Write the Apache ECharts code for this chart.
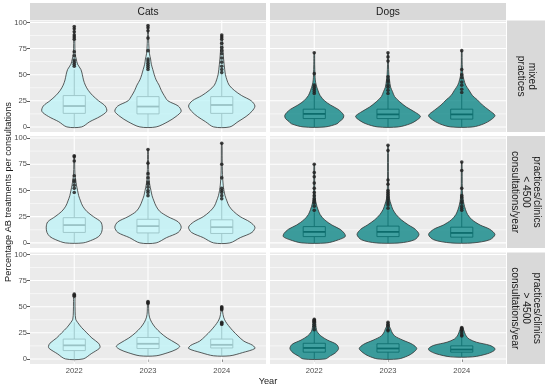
<!DOCTYPE html>
<html>
<head>
<meta charset="utf-8">
<script src="https://cdn.jsdelivr.net/npm/echarts@6/dist/echarts.min.js"></script>
<style>html,body{margin:0;padding:0;background:#fff;}#chart{width:550px;height:387px;}</style>
</head>
<body>
<div id="chart"></div>
<script>
// ---------------- DATA ----------------
const years = ['2022', '2023', '2024'];
const speciesNames = ['Cats', 'Dogs'];
const practiceNames = [
  'mixed\npractices',
  'practices/clinics\n< 4500\nconsultations/year',
  'practices/clinics\n> 4500\nconsultations/year'
];
const yTickValues = [0, 25, 50, 75, 100];
const yMinorValues = [12.5, 37.5, 62.5, 87.5];
const xTickValues = [1, 2, 3];
const yAxisTitle = 'Percentage AB treatments per consultations';
const xAxisTitle = 'Year';

// violin profiles: [value, half-width (category units)] for 2022, 2023, 2024
const catsMixedViolins = [
  [[0,0.10],[5,0.21],[10,0.35],[15,0.44],[20,0.42],[25,0.33],[30,0.25],[35,0.19],[40,0.15],[45,0.125],[50,0.11],[55,0.09],[60,0.045],[65,0.027],[70,0.012],[80,0.008],[96,0.004]],
  [[0,0.11],[5,0.27],[10,0.38],[15,0.45],[20,0.41],[25,0.27],[30,0.22],[35,0.18],[40,0.15],[45,0.11],[50,0.085],[55,0.065],[60,0.045],[65,0.035],[70,0.02],[80,0.01],[97,0.004]],
  [[0,0.11],[5,0.22],[10,0.33],[15,0.41],[20,0.45],[25,0.40],[30,0.27],[35,0.17],[40,0.10],[45,0.07],[50,0.05],[55,0.04],[65,0.025],[75,0.015],[88,0.005]]
];
const catsMixedBoxes = [[0,13,20,30,55],[0,12.5,19.5,29,53],[0,13,21,29,50]]; // lo, q1, median, q3, hi
const catsMixedOutliers = [
  [58,60,62,64,68,72,84,86,88,91,94,96],
  [55,57,59,61,63,65,73,85,92,95,97],
  [52,55,58,62,66,70,73,76,80,84,86,88]
];

const dogsMixedViolins = [
  [[0,0.15],[3,0.31],[5,0.34],[8,0.39],[11,0.40],[14,0.37],[17,0.32],[21,0.22],[25,0.14],[30,0.08],[35,0.05],[40,0.027],[45,0.014],[50,0.01],[60,0.006],[71,0.004]],
  [[0,0.14],[3,0.30],[6,0.38],[10,0.44],[14,0.37],[19,0.25],[24,0.16],[29,0.09],[34,0.06],[38,0.036],[45,0.02],[50,0.012],[60,0.006],[71,0.004]],
  [[0,0.15],[3,0.30],[7,0.40],[11,0.45],[16,0.37],[21,0.28],[26,0.21],[30,0.145],[35,0.10],[40,0.054],[45,0.03],[50,0.015],[60,0.006],[73,0.004]]
];
const dogsMixedBoxes = [[0,8,12.5,17,30],[0,8,12,17,30],[0,7.5,12,17,31]];
const dogsMixedOutliers = [
  [32,34,36,38,40,51,71],
  [32,35,38,40,43,45,48,63,67,71],
  [33,36,40,43,47,50,55,73]
];

const catsSmallViolins = [
  [[0,0.12],[3,0.25],[6,0.33],[10,0.37],[15,0.38],[20,0.36],[25,0.26],[30,0.17],[35,0.115],[40,0.085],[45,0.06],[50,0.045],[55,0.03],[60,0.02],[65,0.01],[75,0.006],[83,0.004]],
  [[0,0.11],[5,0.25],[10,0.41],[15,0.45],[20,0.41],[25,0.27],[30,0.16],[35,0.11],[40,0.08],[45,0.055],[50,0.04],[55,0.025],[60,0.015],[70,0.008],[89,0.004]],
  [[0,0.11],[5,0.25],[10,0.41],[15,0.45],[20,0.38],[25,0.25],[30,0.16],[35,0.10],[40,0.07],[45,0.045],[50,0.03],[55,0.02],[65,0.01],[80,0.006],[95,0.004]]
];
const catsSmallBoxes = [[0,10,17,24,45],[0,9.5,16,22.5,42],[0,9,15,22,41]];
const catsSmallOutliers = [
  [48,52,55,58,60,64,78,82,83],
  [45,48,50,53,56,58,62,66,76,89],
  [42,45,48,50,52,62,75,95]
];

const dogsSmallViolins = [
  [[0,0.17],[3,0.33],[6,0.42],[9,0.41],[13,0.35],[17,0.24],[22,0.14],[27,0.08],[32,0.05],[37,0.028],[42,0.015],[50,0.008],[60,0.006],[75,0.004]],
  [[0,0.16],[3,0.36],[8,0.42],[13,0.37],[17,0.28],[22,0.18],[27,0.11],[32,0.065],[37,0.04],[42,0.02],[50,0.01],[60,0.006],[93,0.004]],
  [[0,0.15],[3,0.38],[8,0.45],[13,0.38],[17,0.25],[22,0.14],[27,0.08],[32,0.05],[37,0.03],[42,0.018],[50,0.008],[77,0.004]]
];
const dogsSmallBoxes = [[0,6,10.5,15.5,29],[0,6,10.5,16,31],[0,5.5,9.5,15,29]];
const dogsSmallOutliers = [
  [31,35,38,40,42,45,48,52,57,63,67,75],
  [33,36,38,40,42,44,46,48,50,56,60,88,93],
  [31,33,35,38,40,43,45,52,69,77]
];

const catsLargeViolins = [
  [[0,0.12],[5,0.23],[10,0.34],[12,0.35],[15,0.33],[20,0.24],[25,0.17],[30,0.10],[35,0.045],[38,0.02],[45,0.012],[55,0.01],[62,0.008]],
  [[3,0.11],[6,0.27],[9,0.38],[12,0.43],[15,0.38],[20,0.26],[25,0.17],[30,0.10],[35,0.05],[40,0.02],[45,0.01],[52,0.008],[55,0.006]],
  [[3,0.11],[6,0.28],[10,0.45],[13,0.42],[17,0.30],[22,0.22],[27,0.15],[32,0.09],[36,0.05],[40,0.025],[45,0.012],[50,0.006]]
];
const catsLargeBoxes = [[0,8,13,19,35],[3,10,14.5,20.5,36],[3,10.5,13.5,19,31]];
const catsLargeOutliers = [
  [60,61,62],
  [53,54,55],
  [33,34,35,47,48,49,50]
];

const dogsLargeViolins = [
  [[0,0.15],[3,0.22],[6,0.29],[10,0.33],[14,0.30],[18,0.18],[22,0.09],[26,0.04],[30,0.025],[34,0.02],[38,0.012]],
  [[0,0.14],[3,0.27],[6,0.34],[10,0.39],[14,0.33],[18,0.20],[22,0.09],[26,0.05],[28,0.04],[31,0.02],[35,0.01]],
  [[2,0.15],[5,0.35],[8,0.44],[10,0.45],[13,0.38],[16,0.20],[19,0.10],[22,0.06],[25,0.04],[28,0.025],[30,0.015]]
];
const dogsLargeBoxes = [[0,6.5,10.5,15,27],[0,6.5,10,14.5,26],[2,6.5,9,12.5,21]];
const dogsLargeOutliers = [
  [28,31,33,35,36,37,38],
  [27,28,31,33,35],
  [22,23,25,27,28,29,30]
];

// ---------------- LAYOUT / STYLE ----------------
const FONT = '"Liberation Sans", Arial, Helvetica, sans-serif';
const Y_MIN = -4.85, Y_MAX = 101.85, X_MIN = 0.4, X_MAX = 3.6;
const COLS = [{left: 30, width: 236}, {left: 270, width: 236}];
const ROWS = [{top: 20.5, height: 111.5}, {top: 136, height: 112}, {top: 252.5, height: 111.5}];
const FILLS = ['rgba(188,243,247,0.75)', 'rgba(0,128,128,0.75)'];
const BOX_HALF = 0.15;

const panels = [
  {row: 0, col: 0, v: catsMixedViolins, b: catsMixedBoxes, o: catsMixedOutliers},
  {row: 0, col: 1, v: dogsMixedViolins, b: dogsMixedBoxes, o: dogsMixedOutliers},
  {row: 1, col: 0, v: catsSmallViolins, b: catsSmallBoxes, o: catsSmallOutliers},
  {row: 1, col: 1, v: dogsSmallViolins, b: dogsSmallBoxes, o: dogsSmallOutliers},
  {row: 2, col: 0, v: catsLargeViolins, b: catsLargeBoxes, o: catsLargeOutliers},
  {row: 2, col: 1, v: dogsLargeViolins, b: dogsLargeBoxes, o: dogsLargeOutliers}
];

const grid = [], xAxis = [], yAxis = [], series = [];

panels.forEach((p, k) => {
  const c = COLS[p.col], r = ROWS[p.row];
  grid.push({left: c.left, top: r.top, width: c.width, height: r.height,
    show: true, backgroundColor: '#EBEBEB', borderWidth: 0});
  const showX = p.row === 2, showY = p.col === 0;
  xAxis.push({gridIndex: k, type: 'value', min: X_MIN, max: X_MAX,
    axisLine: {show: false}, splitLine: {show: false},
    axisTick: {show: showX, customValues: xTickValues, length: 3, lineStyle: {color: '#333', width: 0.8}},
    axisLabel: {show: showX, customValues: xTickValues, margin: 3,
      formatter: v => years[Math.round(v) - 1] || '', fontSize: 7.6, color: '#4D4D4D', fontFamily: FONT}});
  yAxis.push({gridIndex: k, type: 'value', min: Y_MIN, max: Y_MAX,
    axisLine: {show: false}, splitLine: {show: false},
    axisTick: {show: showY, customValues: yTickValues, length: 3, lineStyle: {color: '#333', width: 0.8}},
    axisLabel: {show: showY, customValues: yTickValues, margin: 3,
      fontSize: 7.6, color: '#4D4D4D', fontFamily: FONT}});

  // background grid lines
  const gl = [];
  yTickValues.forEach(v => gl.push([0, v, 1]));
  yMinorValues.forEach(v => gl.push([0, v, 0]));
  xTickValues.forEach(v => gl.push([1, v, 1]));
  series.push({type: 'custom', xAxisIndex: k, yAxisIndex: k, silent: true, data: gl,
    renderItem: (params, api) => {
      const t = api.value(0), v = api.value(1), major = api.value(2);
      let a, b;
      if (t === 0) { a = api.coord([X_MIN, v]); b = api.coord([X_MAX, v]); }
      else { a = api.coord([v, Y_MIN]); b = api.coord([v, Y_MAX]); }
      return {type: 'line', shape: {x1: a[0], y1: a[1], x2: b[0], y2: b[1]},
        style: {stroke: '#FFFFFF', lineWidth: major ? 1.1 : 0.55}};
    }});

  // boxplots
  series.push({type: 'custom', xAxisIndex: k, yAxisIndex: k, silent: true,
    data: xTickValues.map(x => [x, p.b[x - 1][2]]),
    renderItem: (params, api) => {
      const x = api.value(0);
      const [lo, q1, med, q3, hi] = p.b[params.dataIndex];
      const top = api.coord([x, hi]), q3p = api.coord([x, q3]), q1p = api.coord([x, q1]), bot = api.coord([x, lo]);
      const tl = api.coord([x - BOX_HALF, q3]), br = api.coord([x + BOX_HALF, q1]);
      const ml = api.coord([x - BOX_HALF, med]), mr = api.coord([x + BOX_HALF, med]);
      const st = {stroke: '#333333', lineWidth: 0.9};
      return {type: 'group', children: [
        {type: 'line', shape: {x1: top[0], y1: top[1], x2: q3p[0], y2: q3p[1]}, style: st},
        {type: 'line', shape: {x1: bot[0], y1: bot[1], x2: q1p[0], y2: q1p[1]}, style: st},
        {type: 'rect', shape: {x: tl[0], y: tl[1], width: br[0] - tl[0], height: br[1] - tl[1]},
          style: {fill: '#FFFFFF', stroke: '#333333', lineWidth: 0.9}},
        {type: 'line', shape: {x1: ml[0], y1: ml[1], x2: mr[0], y2: mr[1]}, style: {stroke: '#333333', lineWidth: 1.8}}
      ]};
    }});

  // outliers
  const pts = [];
  p.o.forEach((arr, i) => arr.forEach(v => pts.push([i + 1, v])));
  series.push({type: 'scatter', xAxisIndex: k, yAxisIndex: k, silent: true, data: pts,
    symbolSize: 3.6, itemStyle: {color: '#222222', opacity: 0.85}});

  // violins
  series.push({type: 'custom', xAxisIndex: k, yAxisIndex: k, silent: true,
    data: xTickValues.map(x => [x, 0]),
    renderItem: (params, api) => {
      const x = api.value(0);
      const prof = p.v[params.dataIndex];
      const pts2 = [];
      for (let i = 0; i < prof.length; i++) pts2.push(api.coord([x + prof[i][1], prof[i][0]]));
      for (let i = prof.length - 1; i >= 0; i--) pts2.push(api.coord([x - prof[i][1], prof[i][0]]));
      return {type: 'polygon', shape: {points: pts2, smooth: 0.3},
        style: {fill: FILLS[p.col], stroke: '#333333', lineWidth: 0.8}};
    }});
});

// strips and titles
const graphic = [];
COLS.forEach((c, i) => {
  graphic.push({type: 'rect', shape: {x: c.left, y: 3, width: c.width, height: 17}, style: {fill: '#D9D9D9'}, silent: true});
  graphic.push({type: 'text', x: c.left + c.width / 2, y: 12, silent: true,
    style: {text: speciesNames[i], align: 'center', verticalAlign: 'middle', fontSize: 10.2, fill: '#1A1A1A', fontFamily: FONT}});
});
ROWS.forEach((r, i) => {
  graphic.push({type: 'rect', shape: {x: 507, y: r.top, width: 38, height: r.height}, style: {fill: '#D9D9D9'}, silent: true});
  graphic.push({type: 'text', x: 526, y: r.top + r.height / 2, rotation: -Math.PI / 2, silent: true,
    style: {text: practiceNames[i], align: 'center', verticalAlign: 'middle', fontSize: 10.2, lineHeight: 11,
      fill: '#1A1A1A', fontFamily: FONT}});
});
graphic.push({type: 'text', x: 8, y: 192, rotation: Math.PI / 2, silent: true,
  style: {text: yAxisTitle, align: 'center', verticalAlign: 'middle', fontSize: 9.2, fill: '#1A1A1A', fontFamily: FONT}});
graphic.push({type: 'text', x: 268, y: 381, silent: true,
  style: {text: xAxisTitle, align: 'center', verticalAlign: 'middle', fontSize: 9.2, fill: '#1A1A1A', fontFamily: FONT}});

const chart = echarts.init(document.getElementById('chart'), null, {renderer: 'canvas'});
chart.setOption({animation: false, backgroundColor: '#FFFFFF', grid, xAxis, yAxis, series, graphic});
</script>
</body>
</html>
